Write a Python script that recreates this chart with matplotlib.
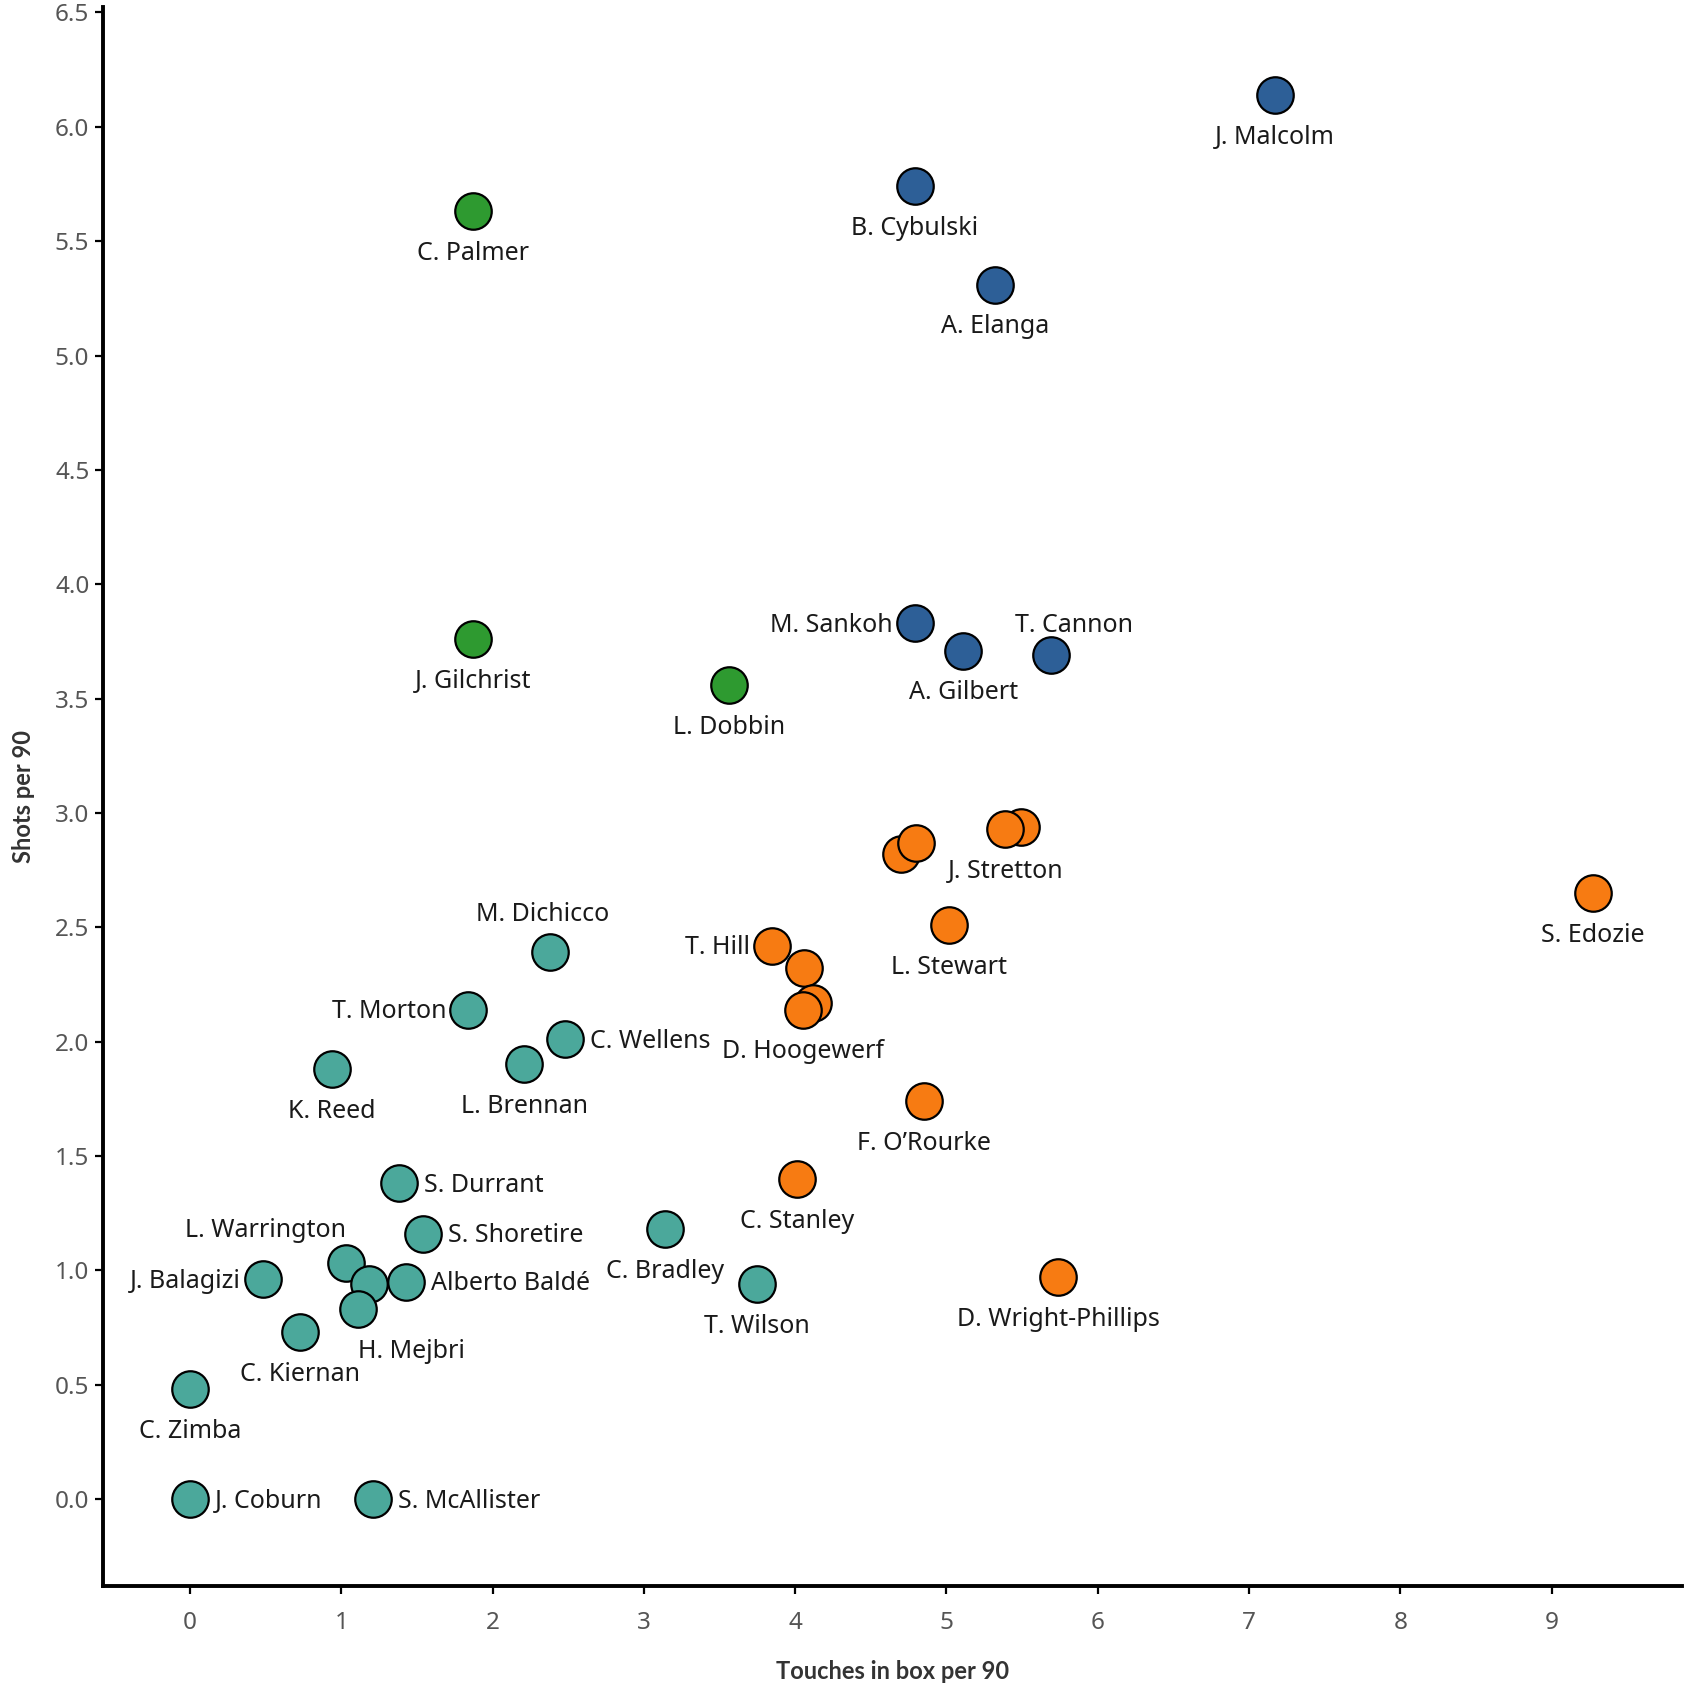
import matplotlib
matplotlib.use("Agg")
import matplotlib.pyplot as plt

plt.rcParams['font.family'] = ['Noto Sans', 'DejaVu Sans']

# data
players = ["J. Malcolm", "B. Cybulski", "A. Elanga", "M. Sankoh", "A. Gilbert", "T. Cannon",
           "C. Palmer", "J. Gilchrist", "L. Dobbin",
           "", "J. Stretton", "", "", "S. Edozie", "L. Stewart", "T. Hill", "",
           "", "D. Hoogewerf", "F. O\u2019Rourke", "C. Stanley", "D. Wright-Phillips",
           "M. Dichicco", "T. Morton", "C. Wellens", "L. Brennan", "K. Reed",
           "C. Bradley", "T. Wilson", "S. Durrant", "S. Shoretire", "L. Warrington",
           "", "Alberto Baldé", "J. Balagizi", "H. Mejbri", "C. Kiernan",
           "C. Zimba", "J. Coburn", "S. McAllister"]
touches = [7.17, 4.79, 5.32, 4.79, 5.11, 5.69,
           1.87, 1.87, 3.56,
           5.49, 5.39, 4.70, 4.80, 9.27, 5.02, 3.85, 4.06,
           4.12, 4.05, 4.85, 4.01, 5.74,
           2.38, 1.84, 2.48, 2.21, 0.94,
           3.14, 3.75, 1.38, 1.54, 1.03,
           1.18, 1.43, 0.48, 1.11, 0.73,
           0.0, 0.0, 1.21]
shots = [6.14, 5.74, 5.31, 3.83, 3.71, 3.69,
         5.63, 3.76, 3.56,
         2.94, 2.93, 2.82, 2.87, 2.65, 2.51, 2.42, 2.32,
         2.17, 2.14, 1.74, 1.40, 0.97,
         2.39, 2.14, 2.01, 1.90, 1.88,
         1.18, 0.94, 1.38, 1.16, 1.03,
         0.94, 0.95, 0.96, 0.83, 0.73,
         0.48, 0.0, 0.0]
group = ["blue"] * 6 + ["green"] * 3 + ["orange"] * 13 + ["teal"] * 18

colors = {"blue": "#2d5f97", "green": "#2e9a30", "orange": "#f77b12", "teal": "#4ba89b"}

# label placement: (dx, dy in points, ha)
below = (0, -30.5, 'center')
right = (18, -1.5, 'left')
left = (-16, -1.5, 'right')
label_pos = {
    "M. Sankoh": left, "T. Hill": left, "T. Morton": left, "J. Balagizi": left,
    "C. Wellens": right, "S. Durrant": right, "S. Shoretire": right,
    "Alberto Baldé": right, "J. Coburn": right, "S. McAllister": right,
    "M. Dichicco": (-5, 27.5, 'center'),
    "T. Cannon": (17, 21.5, 'center'),
    "L. Warrington": (0, 23.5, 'right'),
    "H. Mejbri": (0, -30.5, 'left'),
}

fig = plt.figure(figsize=(16.96, 17.01), dpi=100)
ax = fig.add_axes([0.0609, 0.0678, 0.9308, 0.9281])

for name, x, y, g in zip(players, touches, shots, group):
    ax.scatter(x, y, s=690, color=colors[g], edgecolor='black', linewidth=1.6, zorder=3)
    if name:
        dx, dy, ha = label_pos.get(name, below)
        ax.annotate(name, (x, y), xytext=(dx, dy), textcoords='offset points',
                    ha=ha, va='center', fontsize=18, color='#1a1a1a', zorder=4)

ax.set_xlim(-0.573, 9.861)
ax.set_ylim(-0.379, 6.524)
ax.set_xticks(range(0, 10))
ax.set_yticks([i * 0.5 for i in range(14)])
ax.set_yticklabels([f"{i * 0.5:.1f}" for i in range(14)])

for side in ['top', 'right']:
    ax.spines[side].set_visible(False)
for side in ['left', 'bottom']:
    ax.spines[side].set_linewidth(2.8)
ax.tick_params(axis='both', labelsize=17.5, labelcolor='#555555', width=1.6, length=6)
ax.tick_params(axis='x', pad=12)
ax.tick_params(axis='y', pad=4)

ax.set_xlabel("Touches in box per 90", fontsize=17, fontweight='bold', color='#333333',
              labelpad=18, family=['Lato', 'DejaVu Sans'])
ax.set_ylabel("Shots per 90", fontsize=17, fontweight='bold', color='#333333',
              labelpad=14, family=['Lato', 'DejaVu Sans'])

fig.savefig("out.png", dpi=100)
